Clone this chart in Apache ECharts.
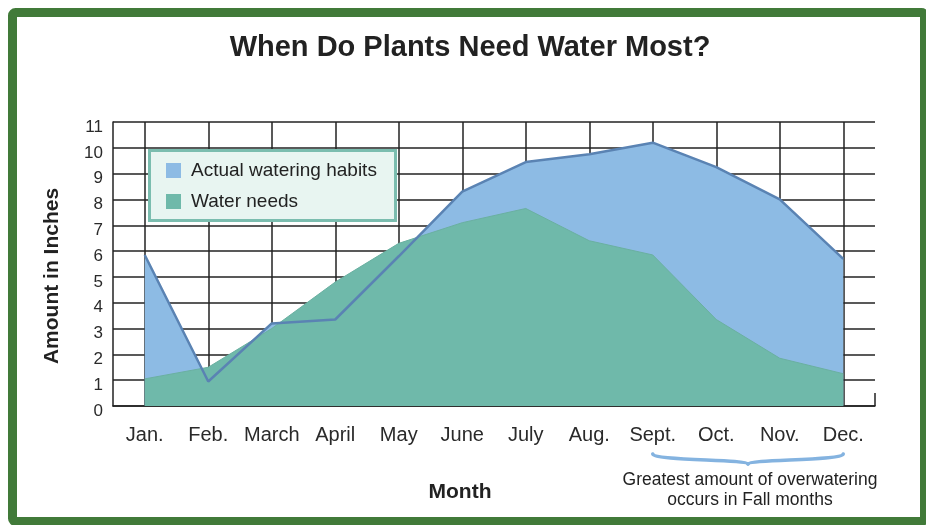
<!DOCTYPE html>
<html><head><meta charset="utf-8">
<script src="https://cdn.jsdelivr.net/npm/echarts@6/dist/echarts.min.js"></script>
<style>html,body{margin:0;padding:0;background:#fff}#c{width:926px;height:525px}</style>
</head><body><div id="c"></div>
<script>
// ---- data ----
const months = ['Jan.', 'Feb.', 'March', 'April', 'May', 'June', 'July', 'Aug.', 'Sept.', 'Oct.', 'Nov.', 'Dec.'];
const actualWatering = [5.85, 0.95, 3.2, 3.35, 5.8, 8.3, 9.45, 9.75, 10.2, 9.25, 8.0, 5.7];
const waterNeeds = [1.05, 1.5, 3.0, 4.8, 6.3, 7.1, 7.65, 6.4, 5.85, 3.35, 1.85, 1.25];
const yMin = 0, yMax = 11, yStep = 1;
const seriesNames = ['Actual watering habits', 'Water needs'];
const titleText = 'When Do Plants Need Water Most?';
const xName = 'Month', yName = 'Amount in Inches';
const noteLines = ['Greatest amount of overwatering', 'occurs in Fall months'];
const fallStart = 'Sept.', fallEnd = 'Dec.';

// ---- style ----
const FONT = '"Liberation Sans", Arial, Helvetica, sans-serif';
const INK = '#222';
const BLUE_FILL = '#8dbbe4';
const BLUE_LINE = '#5a83b3';
const GREEN_FILL = '#6fb9aa';
const FRAME = '#417a39';
const grid = {left: 113, right: 51, top: 122, bottom: 119};

const chart = echarts.init(document.getElementById('c'), null, {renderer: 'canvas'});
chart.setOption({
  animation: false,
  backgroundColor: '#fff',
  textStyle: {fontFamily: FONT},
  title: {
    text: titleText, left: 470, textAlign: 'center', top: 33, padding: 0,
    textStyle: {fontFamily: FONT, fontSize: 29, fontWeight: 'bold', color: INK}
  },
  grid: grid,
  legend: {
    data: seriesNames, orient: 'vertical', left: 166, top: 161, padding: 0,
    icon: 'rect', itemWidth: 15, itemHeight: 15, itemGap: 12,
    itemStyle: {borderWidth: 0},
    textStyle: {fontFamily: FONT, fontSize: 19, color: INK, padding: [0, 0, 0, 5]},
    selectedMode: false, z: 5
  },
  xAxis: {
    type: 'category', data: months, boundaryGap: true,
    name: xName, nameLocation: 'middle', nameGap: 76,
    nameTextStyle: {fontFamily: FONT, fontSize: 21, fontWeight: 'bold', color: INK, padding: [0, 68, 0, 0]},
    axisLine: {show: true, lineStyle: {color: INK, width: 1.5}},
    axisTick: {show: false},
    axisLabel: {interval: 0, margin: 19, fontFamily: FONT, fontSize: 20, color: '#2a2a2a'},
    splitLine: {show: true, interval: 0, alignWithLabel: true, lineStyle: {color: INK, width: 1.5}}
  },
  yAxis: {
    type: 'value', min: yMin, max: yMax, interval: yStep,
    name: yName, nameLocation: 'middle', nameGap: 50,
    nameTextStyle: {fontFamily: FONT, fontSize: 21, fontWeight: 'bold', color: INK, padding: [0, 24, 0, 0]},
    axisLine: {show: true, lineStyle: {color: INK, width: 1.5}},
    axisTick: {show: false},
    axisLabel: {margin: 10, fontFamily: FONT, fontSize: 17, color: '#2a2a2a', verticalAlign: 'top', lineHeight: 10},
    splitLine: {show: true, lineStyle: {color: INK, width: 1.5}}
  },
  series: [
    {
      name: seriesNames[0], type: 'line', data: actualWatering, symbol: 'none', z: 2,
      itemStyle: {color: BLUE_FILL},
      lineStyle: {width: 0, opacity: 0},
      areaStyle: {color: BLUE_FILL, opacity: 1}
    },
    {
      name: seriesNames[1], type: 'line', data: waterNeeds, symbol: 'none', z: 3,
      itemStyle: {color: GREEN_FILL},
      lineStyle: {width: 1, color: '#6ab0a1'},
      areaStyle: {color: GREEN_FILL, opacity: 1}
    },
    {
      name: seriesNames[0], type: 'line', data: actualWatering, symbol: 'none', z: 4,
      itemStyle: {color: BLUE_FILL},
      lineStyle: {width: 2.5, color: BLUE_LINE}
    }
  ]
});

// annotation geometry derived from the axis
const x1 = chart.convertToPixel({xAxisIndex: 0}, fallStart);
const x2 = chart.convertToPixel({xAxisIndex: 0}, fallEnd);
const xm = (x1 + x2) / 2;
const y0 = 454, y1 = 460, y2 = 464;
const gridRight = 926 - grid.right, gridBottom = 525 - grid.bottom;
const braceStyle = {fill: 'none', stroke: '#84b3e0', lineWidth: 3.5, lineCap: 'round'};

chart.setOption({
  graphic: [
    {id: 'legendBox', type: 'rect', z: 3,
      shape: {x: 149.5, y: 150.5, width: 246, height: 70},
      style: {fill: '#e8f5f1', stroke: '#7bbdaf', lineWidth: 3}},
    {id: 'cornerTick', type: 'line', z: 1,
      shape: {x1: gridRight, y1: gridBottom - 13, x2: gridRight, y2: gridBottom},
      style: {stroke: INK, lineWidth: 1.5}},
    {id: 'braceL', type: 'bezierCurve', z: 3,
      shape: {x1: x1, y1: y0, cpx1: x1 + 2, cpy1: y1 + 1, cpx2: xm - 2, cpy2: y1 - 1, x2: xm, y2: y2},
      style: braceStyle},
    {id: 'braceR', type: 'bezierCurve', z: 3,
      shape: {x1: xm, y1: y2, cpx1: xm + 2, cpy1: y1 - 1, cpx2: x2 - 2, cpy2: y1 + 1, x2: x2, y2: y0},
      style: braceStyle},
    {id: 'note', type: 'text', z: 3, x: xm + 2, y: 470,
      style: {text: noteLines.join('\n'), font: '17.5px ' + FONT, fill: INK, align: 'center', verticalAlign: 'top', lineHeight: 20}},
    {id: 'frame', type: 'rect', z: 10,
      shape: {x: 12.5, y: 12.5, width: 912, height: 509, r: 3},
      style: {fill: 'none', stroke: FRAME, lineWidth: 9}}
  ]
});
</script>
</body></html>
